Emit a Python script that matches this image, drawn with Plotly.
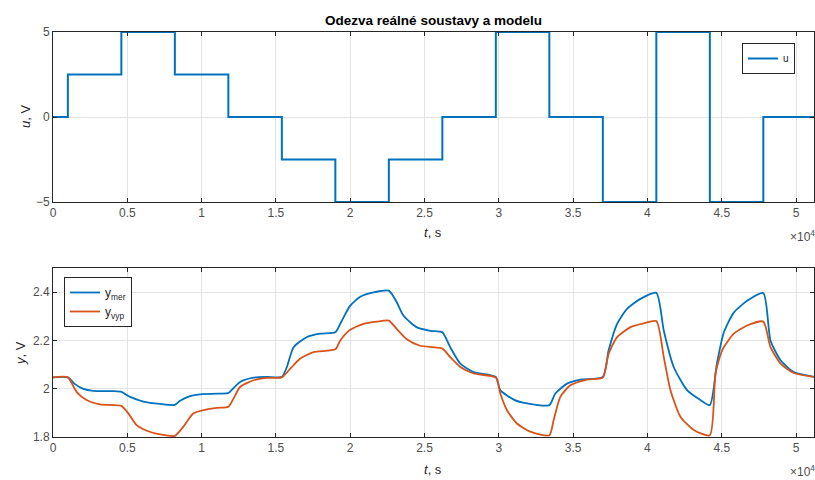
import plotly.graph_objects as go

# ---- input signal u (piecewise constant, switching every 3600 s) ----
u_times = [0, 1000, 4600, 8200, 11800, 15400, 19000, 22600, 26200,
           29800, 33400, 37000, 40600, 44200, 47800, 51210]
u_values = [0, 2.5, 5, 2.5, 0, -2.5, -5, -2.5, 0, 5, 0, -5, 5, -5, 0, 0]

# ---- measured output y_mer ----
t_mer = [0, 1000, 1480, 2040, 2710, 4060, 4600, 5190, 6080, 7200, 8200,
         8550, 9220, 9900, 11700, 11800, 12590, 13490, 14400, 15400,
         15740, 16190, 17090, 17980, 19000, 19330, 20000, 20680, 21570,
         22600, 23140, 23590, 24490, 25390, 26200, 26730, 27410, 28300,
         29800, 30100, 31000, 31900, 33400, 33800, 34590, 35490, 37000,
         37390, 37960, 38630, 39530, 40600, 41100, 41770, 42670, 43570,
         44200, 44690, 45140, 45810, 46710, 47800, 48280, 48960, 49850,
         51210]
y_mer = [2.047, 2.047, 2.019, 1.999, 1.991, 1.990, 1.987, 1.966, 1.947,
         1.937, 1.933, 1.950, 1.969, 1.977, 1.981, 1.982, 2.028, 2.046,
         2.049, 2.049, 2.090, 2.172, 2.214, 2.228, 2.234, 2.269, 2.344,
         2.381, 2.399, 2.406, 2.357, 2.302, 2.254, 2.240, 2.234, 2.172,
         2.104, 2.069, 2.049, 1.994, 1.955, 1.939, 1.932, 1.980, 2.021,
         2.038, 2.049, 2.159, 2.269, 2.331, 2.372, 2.397, 2.241, 2.090,
         1.994, 1.953, 1.932, 2.109, 2.233, 2.315, 2.364, 2.396, 2.200,
         2.118, 2.069, 2.049]

# ---- model output y_vyp ----
t_vyp = [0, 1000, 1580, 2260, 3160, 4600, 5070, 5630, 6310, 7200, 8200,
         8770, 9450, 10120, 11020, 11800, 12590, 13490, 14400, 15400,
         15970, 16640, 17540, 19000, 19330, 20000, 20900, 21800, 22600,
         23140, 23810, 24700, 26200, 26730, 27410, 28300, 29800, 30100,
         30550, 31220, 32120, 33400, 33690, 34140, 34810, 35940, 37000,
         37390, 37960, 38860, 39750, 40600, 41100, 41550, 42220, 43120,
         44200, 44580, 45030, 45810, 46710, 47800, 48280, 48960, 49850,
         51210]
y_vyp = [2.047, 2.047, 1.987, 1.953, 1.935, 1.929, 1.898, 1.849, 1.826,
         1.811, 1.805, 1.843, 1.898, 1.911, 1.921, 1.925, 2.007, 2.035,
         2.045, 2.047, 2.083, 2.125, 2.152, 2.163, 2.200, 2.244, 2.269,
         2.278, 2.282, 2.247, 2.205, 2.178, 2.166, 2.131, 2.090, 2.063,
         2.046, 1.980, 1.911, 1.856, 1.822, 1.807, 1.870, 1.966, 2.014,
         2.038, 2.046, 2.145, 2.214, 2.255, 2.271, 2.280, 2.131, 1.994,
         1.884, 1.829, 1.807, 2.063, 2.159, 2.228, 2.262, 2.278, 2.172,
         2.104, 2.065, 2.049]

# ---- axis ticks ----
x_tickvals = [0, 5000, 10000, 15000, 20000, 25000, 30000, 35000, 40000,
              45000, 50000]
x_ticktext = ["0", "0.5", "1", "1.5", "2", "2.5", "3", "3.5", "4", "4.5", "5"]
u_ticks = [-5, 0, 5]
y_ticks = [1.8, 2.0, 2.2, 2.4]
y_ticktext = ["1.8", "2", "2.2", "2.4"]

BLUE = "#0072BD"
ORANGE = "#D95319"
FONT = "Liberation Sans, Arial, sans-serif"

fig = go.Figure()

fig.add_trace(go.Scatter(
    x=u_times, y=u_values, name="u", mode="lines",
    line=dict(color=BLUE, width=2, shape="hv"),
    xaxis="x", yaxis="y", legend="legend"))

fig.add_trace(go.Scatter(
    x=t_mer, y=y_mer, name="y<sub>mer</sub>", mode="lines",
    line=dict(color=BLUE, width=1.8, shape="spline", smoothing=0.6),
    xaxis="x2", yaxis="y2", legend="legend2"))

fig.add_trace(go.Scatter(
    x=t_vyp, y=y_vyp, name="y<sub>vyp</sub>", mode="lines",
    line=dict(color=ORANGE, width=1.8, shape="spline", smoothing=0.6),
    xaxis="x2", yaxis="y2", legend="legend2"))

common_axis = dict(
    showline=True, linecolor="#262626", linewidth=1, mirror="ticks",
    ticks="inside", ticklen=4, tickcolor="#262626", tickwidth=1,
    showgrid=True, gridcolor="#e3e3e3", gridwidth=1, zeroline=False,
    tickfont=dict(family=FONT, size=12, color="#4d4d4d"),
)

# plot area: 53..814 px horizontally, 32..437 px vertically
L, R, T, B = 53, 1, 32, 43
W, H = 815, 480
pw, ph = W - L - R, H - T - B


def px(xp):
    return (xp - L) / pw


def py(yp):
    return (H - B - yp) / ph


fig.update_layout(
    width=W, height=H,
    margin=dict(l=L, r=R, t=T, b=B),
    paper_bgcolor="white", plot_bgcolor="white",
    font=dict(family=FONT, size=12, color="#262626"),
    title=dict(text="<b>Odezva reálné soustavy a modelu</b>",
               x=0.5, xref="paper", y=1 - 20 / H, yref="container",
               xanchor="center", yanchor="middle",
               font=dict(family=FONT, size=13.5, color="black")),
    xaxis=dict(domain=[0, 1], anchor="y", range=[0, 51210],
               tickvals=x_tickvals, ticktext=x_ticktext, **common_axis),
    yaxis=dict(domain=[py(202), 1], anchor="x", range=[-5, 5],
               tickvals=u_ticks, **common_axis),
    xaxis2=dict(domain=[0, 1], anchor="y2", range=[0, 51210],
                tickvals=x_tickvals, ticktext=x_ticktext, **common_axis),
    yaxis2=dict(domain=[0, py(268)], anchor="x2", range=[1.8, 2.5],
                tickvals=y_ticks, ticktext=y_ticktext, **common_axis),
    legend=dict(x=px(742), y=py(43), xanchor="left", yanchor="top",
                bgcolor="white", bordercolor="#262626", borderwidth=1,
                font=dict(family=FONT, size=10, color="#262626"),
                itemwidth=30, tracegroupgap=0),
    legend2=dict(x=px(64), y=py(277), xanchor="left", yanchor="top",
                 bgcolor="white", bordercolor="#262626", borderwidth=1,
                 font=dict(family=FONT, size=12, color="#262626"),
                 itemwidth=30, tracegroupgap=0),
    showlegend=True,
)

annotations = [
    dict(text="<i>t</i>, s", x=px(433), y=py(232)),
    dict(text="<i>t</i>, s", x=px(433), y=py(469)),
    dict(text="<i>u</i>, V", x=px(25), y=py(117), textangle=-90),
    dict(text="<i>y</i>, V", x=px(20), y=py(353), textangle=-90),
]
for a in annotations:
    fig.add_annotation(xref="paper", yref="paper", showarrow=False,
                       xanchor="center", yanchor="middle",
                       font=dict(family=FONT, size=13, color="#262626"), **a)

for yp in (236, 471):
    fig.add_annotation(text="×10<sup>4</sup>", xref="paper", yref="paper",
                       x=1.0, y=py(yp), xanchor="right", yanchor="middle",
                       showarrow=False, xshift=3,
                       font=dict(family=FONT, size=12, color="#4d4d4d"))

fig.write_html("out.html")
